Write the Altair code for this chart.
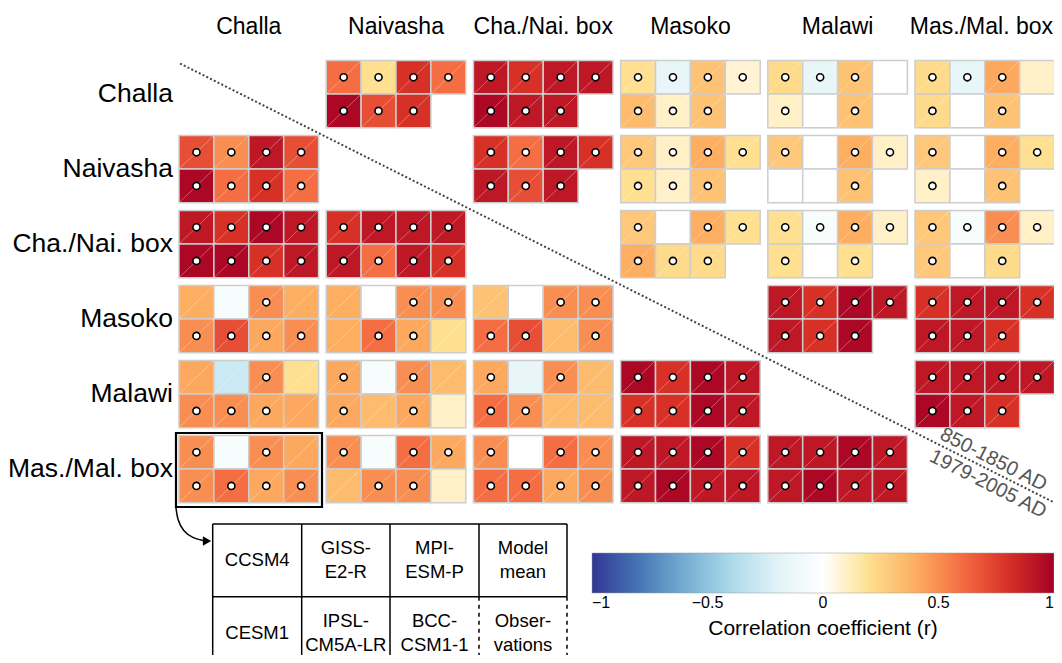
import math
import altair as alt
import pandas as pd

# ---------------------------------------------------------------- data
SITES = ["Challa", "Naivasha", "Cha./Nai. box", "Masoko", "Malawi", "Mas./Mal. box"]
MODELS = ["CCSM4", "GISS-E2-R", "MPI-ESM-P", "Model mean",
          "CESM1", "IPSL-CM5A-LR", "BCC-CSM1-1", "Observations"]
TABLE_LABELS = ["CCSM4", "GISS-\nE2-R", "MPI-\nESM-P", "Model\nmean",
                "CESM1", "IPSL-\nCM5A-LR", "BCC-\nCSM1-1", "Obser-\nvations"]
PERIOD_LABELS = ["850-1850 AD", "1979-2005 AD"]

# correlation r (row site vs column site), in MODELS order; None = not available
r_challa = {
    "Naivasha":      [0.60, 0.20, 0.80, 0.60, 0.97, 0.70, 0.80, None],
    "Cha./Nai. box": [0.90, 0.80, 0.90, 0.90, 0.97, 0.90, 0.90, None],
    "Masoko":        [0.20, -0.15, 0.32, 0.08, 0.35, 0.10, 0.32, None],
    "Malawi":        [0.22, -0.15, 0.32, 0.00, 0.10, 0.00, 0.32, None],
    "Mas./Mal. box": [0.22, -0.15, 0.42, 0.10, 0.22, 0.00, 0.32, None],
}
r_naivasha = {
    "Challa":        [0.70, 0.50, 0.90, 0.70, 0.97, 0.60, 0.80, 0.60],
    "Cha./Nai. box": [0.80, 0.60, 0.90, 0.80, 0.90, 0.70, 0.90, None],
    "Masoko":        [0.30, 0.10, 0.40, 0.20, 0.20, 0.10, 0.32, None],
    "Malawi":        [0.30, 0.00, 0.40, 0.10, 0.00, 0.00, 0.32, None],
    "Mas./Mal. box": [0.30, 0.00, 0.40, 0.20, 0.10, 0.00, 0.32, None],
}
r_chanai = {
    "Challa":        [0.90, 0.80, 0.97, 0.90, 0.97, 0.97, 0.80, 0.90],
    "Naivasha":      [0.80, 0.90, 0.90, 0.90, 0.90, 0.60, 0.90, 0.80],
    "Masoko":        [0.30, 0.00, 0.40, 0.20, 0.40, 0.22, 0.22, None],
    "Malawi":        [0.20, -0.05, 0.40, 0.10, 0.20, 0.00, 0.20, None],
    "Mas./Mal. box": [0.30, -0.05, 0.50, 0.10, 0.30, 0.00, 0.22, None],
}
r_masoko = {
    "Challa":        [0.40, -0.05, 0.50, 0.40, 0.50, 0.70, 0.42, 0.50],
    "Naivasha":      [0.40, 0.00, 0.50, 0.50, 0.40, 0.60, 0.42, 0.20],
    "Cha./Nai. box": [0.32, 0.00, 0.50, 0.50, 0.60, 0.70, 0.35, 0.50],
    "Malawi":        [0.90, 0.80, 0.97, 0.90, 0.90, 0.80, 0.97, None],
    "Mas./Mal. box": [0.80, 0.90, 0.90, 0.80, 0.90, 0.90, 0.80, None],
}
r_malawi = {
    "Challa":        [0.42, -0.28, 0.50, 0.20, 0.50, 0.50, 0.42, 0.42],
    "Naivasha":      [0.42, -0.05, 0.50, 0.35, 0.42, 0.35, 0.42, 0.10],
    "Cha./Nai. box": [0.42, -0.15, 0.50, 0.35, 0.60, 0.50, 0.35, 0.35],
    "Masoko":        [0.97, 0.80, 0.97, 0.90, 0.80, 0.80, 0.97, 0.90],
    "Mas./Mal. box": [0.90, 0.90, 0.90, 0.90, 0.97, 0.90, 0.80, None],
}
r_masmal = {
    "Challa":        [0.50, -0.05, 0.50, 0.42, 0.50, 0.60, 0.42, 0.50],
    "Naivasha":      [0.50, -0.05, 0.60, 0.42, 0.35, 0.50, 0.50, 0.10],
    "Cha./Nai. box": [0.50, 0.00, 0.60, 0.50, 0.60, 0.60, 0.42, 0.50],
    "Masoko":        [0.90, 0.90, 0.97, 0.80, 0.90, 0.97, 0.90, 0.90],
    "Malawi":        [0.90, 0.90, 0.97, 0.90, 0.90, 0.97, 0.90, 0.90],
}

# significance (1 = dot drawn)
sig_challa = {
    "Naivasha":      [1, 1, 1, 1, 1, 1, 1, 0],
    "Cha./Nai. box": [1, 1, 1, 1, 1, 1, 1, 0],
    "Masoko":        [1, 1, 1, 1, 1, 1, 1, 0],
    "Malawi":        [1, 1, 1, 0, 1, 0, 1, 0],
    "Mas./Mal. box": [1, 1, 1, 0, 1, 0, 1, 0],
}
sig_naivasha = {
    "Challa":        [1, 1, 1, 1, 1, 1, 1, 1],
    "Cha./Nai. box": [1, 1, 1, 1, 1, 1, 1, 0],
    "Masoko":        [1, 1, 1, 1, 1, 1, 1, 0],
    "Malawi":        [1, 0, 1, 1, 0, 0, 1, 0],
    "Mas./Mal. box": [1, 0, 1, 1, 1, 0, 1, 0],
}
sig_chanai = {
    "Challa":        [1, 1, 1, 1, 1, 1, 1, 1],
    "Naivasha":      [1, 1, 1, 1, 1, 1, 1, 1],
    "Masoko":        [1, 0, 1, 1, 1, 1, 1, 0],
    "Malawi":        [1, 1, 1, 1, 1, 0, 1, 0],
    "Mas./Mal. box": [1, 1, 1, 1, 1, 0, 1, 0],
}
sig_masoko = {
    "Challa":        [0, 0, 1, 0, 1, 1, 1, 1],
    "Naivasha":      [0, 0, 1, 1, 0, 1, 1, 0],
    "Cha./Nai. box": [0, 0, 1, 1, 1, 1, 0, 1],
    "Malawi":        [1, 1, 1, 1, 1, 1, 1, 0],
    "Mas./Mal. box": [1, 1, 1, 1, 1, 1, 1, 0],
}
sig_malawi = {
    "Challa":        [0, 0, 1, 0, 1, 1, 1, 0],
    "Naivasha":      [1, 0, 1, 0, 1, 0, 1, 0],
    "Cha./Nai. box": [1, 0, 1, 0, 1, 1, 0, 0],
    "Masoko":        [1, 1, 1, 1, 1, 1, 1, 1],
    "Mas./Mal. box": [1, 1, 1, 1, 1, 1, 1, 0],
}
sig_masmal = {
    "Challa":        [1, 0, 1, 0, 1, 1, 1, 1],
    "Naivasha":      [1, 0, 1, 1, 0, 1, 1, 0],
    "Cha./Nai. box": [1, 0, 1, 1, 1, 1, 1, 1],
    "Masoko":        [1, 1, 1, 1, 1, 1, 1, 1],
    "Malawi":        [1, 1, 1, 1, 1, 1, 1, 1],
}

R_ALL = [r_challa, r_naivasha, r_chanai, r_masoko, r_malawi, r_masmal]
SIG_ALL = [sig_challa, sig_naivasha, sig_chanai, sig_masoko, sig_malawi, sig_masmal]

COLOR_STOPS = [-1, -0.8, -0.6, -0.4, -0.2, 0, 0.2, 0.4, 0.6, 0.8, 1]
COLOR_RANGE = ["#313695", "#4575b4", "#74add1", "#abd9e9", "#e0f3f8", "#ffffff",
               "#fee090", "#fdae61", "#f46d43", "#d73027", "#a50026"]
LEGEND_TICKS = [-1, -0.5, 0, 0.5, 1]

# ---------------------------------------------------------------- layout
W, H = 1046, 647           # drawing area (page minus 8px margin)
CW, CH = 34.9, 33.6        # pixels per cell unit
GX0, GY0 = 179.0, 60.5     # page position of grid's top-left corner
PANEL_DX = 147.2 / CW      # panel stride in cell units
PANEL_DY = 75.0 / CH
LINE_H = 24                # line height of the key table text


def ux(px):
    return (px - GX0) / CW


def uy(py):
    return (py - GY0) / CH


XS = alt.Scale(domain=[ux(8), ux(8 + W)], nice=False, zero=False)
YS = alt.Scale(domain=[uy(8), uy(8 + H)], nice=False, zero=False, reverse=True)


def X(f="x"):
    return alt.X(f"{f}:Q", scale=XS, axis=None)


def Y(f="y"):
    return alt.Y(f"{f}:Q", scale=YS, axis=None)


rows = []
for i, site_r in enumerate(SITES):
    for site_c, vals in R_ALL[i].items():
        j = SITES.index(site_c)
        sigs = SIG_ALL[i][site_c]
        for k, (v, s) in enumerate(zip(vals, sigs)):
            if v is None:
                continue
            x = j * PANEL_DX + k % 4
            y = i * PANEL_DY + k // 4
            rows.append(dict(x=x, x2=x + 1, y=y, y2=y + 1, xc=x + 0.5, yc=y + 0.5,
                             r=v, sig=s, row_site=site_r, col_site=site_c, model=MODELS[k]))
cells = pd.DataFrame(rows)

color = alt.Color("r:Q",
                  scale=alt.Scale(domain=COLOR_STOPS, range=COLOR_RANGE, interpolate="rgb"),
                  legend=alt.Legend(orient="none", legendX=592 - 8, legendY=553 - 8,
                                    direction="horizontal", gradientLength=462,
                                    gradientThickness=40, values=LEGEND_TICKS, format="~g",
                                    title="Correlation coefficient (r)", titleOrient="bottom",
                                    titleAnchor="middle", titleFontSize=21, titleLimit=0,
                                    titleFontWeight="normal", titleColor="black",
                                    titlePadding=7,
                                    labelFontSize=16, labelColor="black",
                                    gradientStrokeColor="#999999", gradientStrokeWidth=0.5))

rect = alt.Chart(cells).mark_rect(stroke="#cdcdcd", strokeWidth=1.5).encode(
    x=X(), x2="x2", y=Y(), y2="y2", color=color)
diag = alt.Chart(cells).mark_rule(color="white", opacity=0.4, strokeWidth=0.8).encode(
    x=X(), y=Y("y2"), x2="x2", y2="y")
dots = alt.Chart(cells[cells.sig == 1]).mark_circle(
    size=50, color="white", stroke="black", strokeWidth=1.6, opacity=1).encode(
    x=X("xc"), y=Y("yc"))

# headers (the last one is right-aligned so that it stays inside the page)
col_hdr = pd.DataFrame({"label": SITES[:5],
                        "x": [j * PANEL_DX + 2 for j in range(5)],
                        "y": [uy(27)] * 5})
last_hdr = pd.DataFrame({"label": SITES[5:], "x": [ux(1053)], "y": [uy(27)]})
row_hdr = pd.DataFrame({"label": SITES,
                        "x": [ux(173)] * 6,
                        "y": [i * PANEL_DY + 1 for i in range(6)]})
col_text = alt.Chart(col_hdr).mark_text(fontSize=23, align="center", baseline="middle",
                                        color="black").encode(x=X(), y=Y(), text="label:N")
last_text = alt.Chart(last_hdr).mark_text(fontSize=23, align="right", baseline="middle",
                                          color="black").encode(x=X(), y=Y(), text="label:N")
row_text = alt.Chart(row_hdr).mark_text(fontSize=26.5, align="right", baseline="middle",
                                        color="black").encode(x=X(), y=Y(), text="label:N")

# diagonal separator
GX_END = 5 * PANEL_DX + 4
GY_END = 5 * PANEL_DY + 2
diag_line = pd.DataFrame({"x": [0.03], "y": [0.09], "x2": [GX_END], "y2": [GY_END]})
sep = alt.Chart(diag_line).mark_rule(color="#444444", strokeWidth=2, strokeDash=[2, 2.2]).encode(
    x=X(), y=Y(), x2="x2", y2="y2")
ang = math.degrees(math.atan2(GY_END * CH, GX_END * CW))
per = pd.DataFrame({"label": PERIOD_LABELS,
                    "x": [ux(993.5), ux(988)], "y": [uy(459.5), uy(484)]})
per_text = alt.Chart(per).mark_text(fontSize=20, angle=ang, align="center", baseline="middle",
                                    color="#555555").encode(x=X(), y=Y(), text="label:N")

# highlight box around Mas./Mal. box vs Challa
box = pd.DataFrame({"x": [ux(176)], "x2": [ux(322)], "y": [uy(433)], "y2": [uy(507)]})
box_mark = alt.Chart(box).mark_rect(fill=None, stroke="black", strokeWidth=2.2).encode(
    x=X(), x2="x2", y=Y(), y2="y2")

# curved arrow to table
arrow = pd.DataFrame({"o": [0, 1, 2, 3, 4],
                      "x": [ux(176), ux(177.5), ux(183), ux(193), ux(205)],
                      "y": [uy(508), uy(520), uy(531), uy(538.5), uy(541)]})
arrow_line = alt.Chart(arrow).mark_line(color="black", strokeWidth=1.5, interpolate="basis").encode(
    x=X(), y=Y(), order="o:Q")
head = pd.DataFrame({"x": [ux(207)], "y": [uy(541)]})
arrow_head = alt.Chart(head).mark_point(shape="triangle-right", filled=True, color="black",
                                        size=90, opacity=1).encode(x=X(), y=Y())

# model key table
TX = [212.7, 301.7, 390.0, 479.0, 567.0]
TY = [524.0, 596.7, 669.0]
solid, dashed = [], []
for yy in TY[:2]:
    solid.append(dict(x=ux(TX[0]), x2=ux(TX[-1]), y=uy(yy), y2=uy(yy)))
for xx in TX[:3]:
    solid.append(dict(x=ux(xx), x2=ux(xx), y=uy(TY[0]), y2=uy(TY[2])))
for xx in TX[3:]:
    solid.append(dict(x=ux(xx), x2=ux(xx), y=uy(TY[0]), y2=uy(TY[1])))
    dashed.append(dict(x=ux(xx), x2=ux(xx), y=uy(TY[1]), y2=uy(TY[2])))
t_solid = alt.Chart(pd.DataFrame(solid)).mark_rule(color="black", strokeWidth=1.5).encode(
    x=X(), x2="x2", y=Y(), y2="y2")
t_dashed = alt.Chart(pd.DataFrame(dashed)).mark_rule(color="black", strokeWidth=1.5,
                                                     strokeDash=[4, 4]).encode(
    x=X(), x2="x2", y=Y(), y2="y2")
tab_y = []
for k, lab in enumerate(TABLE_LABELS):
    centre = 560 if k < 4 else 633
    n_lines = lab.count("\n") + 1
    tab_y.append(uy(centre - (n_lines - 1) * LINE_H / 2))
tab = pd.DataFrame({"label": TABLE_LABELS,
                    "x": [ux((TX[k % 4] + TX[k % 4 + 1]) / 2) for k in range(8)],
                    "y": tab_y})
tab_text = alt.Chart(tab).mark_text(fontSize=18.5, align="center", baseline="middle",
                                    lineBreak="\n", lineHeight=LINE_H, color="black").encode(
    x=X(), y=Y(), text="label:N")

chart = alt.layer(rect, diag, dots, col_text, last_text, row_text, sep, per_text, box_mark,
                  arrow_line, arrow_head, t_solid, t_dashed, tab_text).properties(
    width=W, height=H, padding=0, autosize=alt.AutoSizeParams(type="none"),
    background="white"
).configure(font="Liberation Sans").configure_view(stroke=None)

chart.save("out.html", embed_options={"renderer": "svg", "actions": False})
